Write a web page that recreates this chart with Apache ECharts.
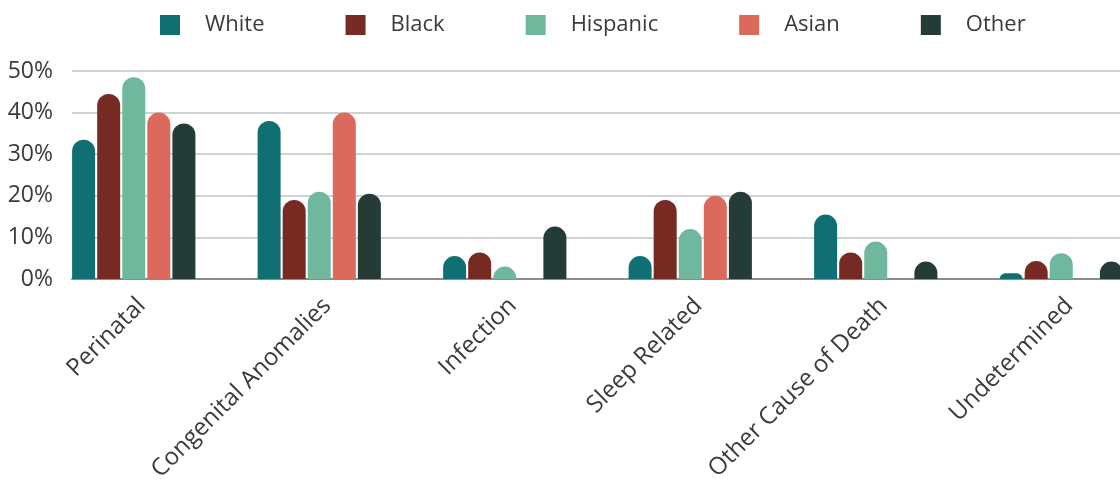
<!DOCTYPE html>
<html>
<head>
<meta charset="utf-8">
<script src="https://cdn.jsdelivr.net/npm/echarts@6/dist/echarts.min.js"></script>
<style>
html,body{margin:0;padding:0;background:#fff;}
#chart{width:1120px;height:479px;}
</style>
</head>
<body>
<div id="chart"></div>
<script>
var categories = ['Perinatal', 'Congenital Anomalies', 'Infection', 'Sleep Related', 'Other Cause of Death', 'Undetermined'];
var seriesNames = ['White', 'Black', 'Hispanic', 'Asian', 'Other'];
var whiteVals = [33.5, 38, 5.5, 5.5, 15.5, 1.4];
var blackVals = [44.5, 19, 6.4, 19, 6.4, 4.3];
var hispanicVals = [48.5, 21, 3, 12, 9, 6.2];
var asianVals = [40, 40, 0, 20, 0, 0];
var otherVals = [37.4, 20.5, 12.6, 21, 4.2, 4.2];
var yTicks = [0, 10, 20, 30, 40, 50];

var colors = ['#0f6f73', '#772a22', '#6fb89d', '#dc6a5c', '#253b38'];
var values = [whiteVals, blackVals, hispanicVals, asianVals, otherVals];
var font = '"Open Sans", sans-serif';

var chart = echarts.init(document.getElementById('chart'), null, {renderer: 'canvas'});

var series = seriesNames.map(function (name, i) {
  return {
    name: name,
    type: 'bar',
    xAxisIndex: 1,
    yAxisIndex: 1,
    data: values[i],
    barWidth: 23,
    barGap: '9%',
    itemStyle: {color: colors[i], borderRadius: [11.5, 11.5, 0, 0]},
    emphasis: {disabled: true}
  };
});

chart.setOption({
  animation: false,
  color: colors,
  textStyle: {fontFamily: font},
  legend: {
    top: 9,
    left: 155,
    itemWidth: 20,
    itemHeight: 20,
    itemGap: 81,
    icon: 'rect',
    textStyle: {fontFamily: font, fontSize: 22, color: '#3a3a3a', padding: [0, 0, 0, 20]},
    data: seriesNames
  },
  grid: [
    {left: 72, right: 0, top: 71, bottom: 200, containLabel: false, outerBoundsMode: 'none'},
    {left: 41, width: 1113, top: 71, bottom: 200, containLabel: false, outerBoundsMode: 'none'},
    {left: 49, width: 1113, top: 71, bottom: 200, containLabel: false, outerBoundsMode: 'none'}
  ],
  xAxis: [
    {
      type: 'category', gridIndex: 0, data: categories,
      axisLine: {show: true, lineStyle: {color: '#8c8c8c', width: 2}},
      axisTick: {show: false}, axisLabel: {show: false}, splitLine: {show: false}
    },
    {
      type: 'category', gridIndex: 1, data: categories,
      axisLine: {show: false}, axisTick: {show: false}, axisLabel: {show: false}
    },
    {
      type: 'category', gridIndex: 2, data: categories,
      axisLine: {show: false}, axisTick: {show: false},
      axisLabel: {
        show: true, rotate: 45, interval: 0, margin: 23,
        fontFamily: font, fontSize: 24, color: '#3a3a3a'
      }
    }
  ],
  yAxis: [
    {
      type: 'value', gridIndex: 0, min: yTicks[0], max: yTicks[yTicks.length - 1], interval: 10,
      axisLine: {show: false}, axisTick: {show: false},
      axisLabel: {margin: 19, fontFamily: font, fontSize: 23, color: '#3a3a3a', formatter: '{value}%'},
      splitLine: {show: true, lineStyle: {color: '#d2d2d2', width: 2}}
    },
    {
      type: 'value', gridIndex: 1, min: yTicks[0], max: yTicks[yTicks.length - 1], interval: 10,
      show: false, splitLine: {show: false}
    },
    {
      type: 'value', gridIndex: 2, min: yTicks[0], max: yTicks[yTicks.length - 1], interval: 10,
      show: false, splitLine: {show: false}
    }
  ],
  series: series
});
</script>
</body>
</html>
